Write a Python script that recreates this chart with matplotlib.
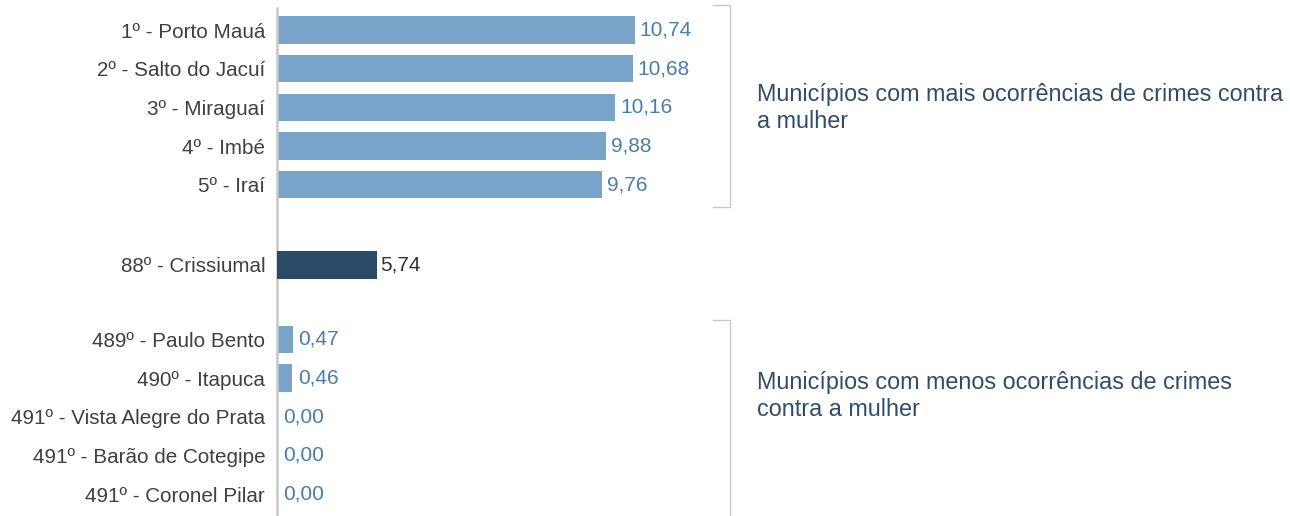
import numpy as np
import matplotlib.pyplot as plt

plt.rcParams['font.family'] = ['Liberation Sans', 'DejaVu Sans']

# dados
mais = ['1º - Porto Mauá', '2º - Salto do Jacuí', '3º - Miraguaí', '4º - Imbé', '5º - Iraí']
mais_val = [10.74, 10.68, 10.16, 9.88, 9.76]
local = ['88º - Crissiumal']
local_val = [5.74]
menos = ['489º - Paulo Bento', '490º - Itapuca', '491º - Vista Alegre do Prata',
         '491º - Barão de Cotegipe', '491º - Coronel Pilar']
menos_val = [0.47, 0.46, 0.00, 0.00, 0.00]

azul_claro = '#77a4c8'
azul_escuro = '#2b4a67'
txt_azul = '#4a7dab'
txt_titulo = '#2f4d6b'
cinza = '#c8c8c8'
fs = 14.9
fv = 15

W, H = 1290, 516
fig = plt.figure(figsize=(W / 100, H / 100), dpi=100)
ax = fig.add_axes([277 / W, 0, 1 - 277 / W, 1])

# posições com espaço entre os grupos
pos_mais = np.arange(len(mais))
pos_local = pos_mais[-1] + 2 + np.arange(len(local))
pos_menos = pos_local[-1] + 2 + np.arange(len(menos))

alt = 0.7
ax.barh(pos_mais, mais_val, height=alt, color=azul_claro)
ax.barh(pos_menos, menos_val, height=alt, color=azul_claro)

def rot(v):
    return f'{v:.2f}'.replace('.', ',')

for p, v in zip(pos_mais, mais_val):
    ax.text(v + 0.14, p, rot(v), va='center', ha='left', fontsize=fv, color=txt_azul)
for p, v in zip(pos_menos, menos_val):
    ax.text(v + 0.17, p, rot(v), va='center', ha='left', fontsize=fv, color=txt_azul)

todos_pos = list(pos_mais) + list(pos_menos)
todos_lab = mais + menos
ax.set_yticks(todos_pos)
ax.set_yticklabels(todos_lab, fontsize=fs, color='#404040')
ax.tick_params(axis='y', length=0, pad=8.5)
ax.set_xticks([])

esp = (494 - 30) / 12
ax.set_ylim(pos_menos[-1] + 22 / esp, -30 / esp)
ax.set_xlim(0, (W - 277) / 33.3)

for s in ['top', 'right', 'bottom']:
    ax.spines[s].set_visible(False)
ax.spines['left'].set_color(cinza)
ax.spines['left'].set_linewidth(1.8)
ax.spines['left'].set_bounds(pos_menos[-1] + 22 / esp, -22 / esp)

# barra do município em destaque (escala própria, como no original)
hb = 40
ax2 = fig.add_axes([277 / W, 1 - (265 + hb / 2) / H, 1 - 277 / W, hb / H])
ax2.barh([0], local_val, height=28 / hb, color=azul_escuro)
ax2.text(local_val[0] + 0.2, 0, rot(local_val[0]), va='center', ha='left',
         fontsize=fv, color='#333333')
ax2.set_yticks([0])
ax2.set_yticklabels(local, fontsize=fs, color='#404040')
ax2.tick_params(axis='y', length=0, pad=8.5)
ax2.set_xticks([])
ax2.set_ylim(0.5, -0.5)
ax2.set_xlim(0, (W - 277) / 17.4)
ax2.patch.set_visible(False)
for s in ['top', 'right', 'bottom', 'left']:
    ax2.spines[s].set_visible(False)

# colchetes e textos laterais
def colchete(y0, y1):
    x0, x1 = 713 / W, 730 / W
    ys = [1 - y0 / H, 1 - y0 / H, 1 - y1 / H, 1 - y1 / H]
    fig.add_artist(plt.Line2D([x0, x1, x1, x0], ys, color=cinza, lw=1.0,
                              transform=fig.transFigure))

colchete(5, 207)
fig.add_artist(plt.Line2D([713 / W, 730 / W, 730 / W], [1 - 320 / H, 1 - 320 / H, 0],
                          color=cinza, lw=1.0, transform=fig.transFigure))

fig.text(757 / W, 1 - 108 / H, 'Municípios com mais ocorrências de crimes contra\na mulher',
         fontsize=16.8, color=txt_titulo, va='center', ha='left', linespacing=1.26)
fig.text(757 / W, 1 - 396 / H, 'Municípios com menos ocorrências de crimes\ncontra a mulher',
         fontsize=16.8, color=txt_titulo, va='center', ha='left', linespacing=1.26)

fig.savefig('out.png', dpi=100)
